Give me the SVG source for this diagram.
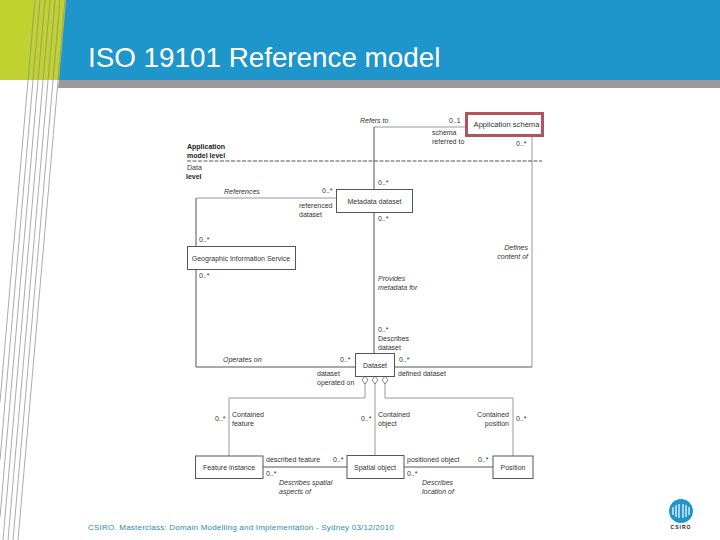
<svg xmlns="http://www.w3.org/2000/svg" width="720" height="540" viewBox="0 0 720 540">
<style>
text{font-family:"Liberation Sans",Arial,sans-serif;font-size:7px;fill:#333}
.i{font-style:italic}
.b{font-weight:bold;fill:#222}
.m{text-anchor:middle}
.e{text-anchor:end}
.box{fill:#fff;stroke:#555;stroke-width:1}
.dk{fill:none;stroke:#555;stroke-width:1}
.lt{fill:none;stroke:#999;stroke-width:1}
.st{fill:none;stroke:#888;stroke-width:.7}
.dia{fill:#fff;stroke:#666;stroke-width:.8}
</style>
<rect width="720" height="540" fill="#fff"/>
<g id="header">
<rect x="0" y="0" width="67" height="80" fill="#bfd230"/>
<polygon points="66,0 720,0 720,80 59,80" fill="#1f96cb"/>
<polygon points="59,80 720,80 720,88 58,88" fill="#9c9a9b"/>
</g>
<g id="stripes">
<path class="st" d="M35,0L0,402M40,0L0,460M45,0L0,517M50,0L3,540M55,0L8,540M60,0L13,540M65,0L18,540"/>
</g>
<text x="88" y="67" style="font-size:27.800px;fill:#fff">ISO 19101 Reference model</text>
<g id="connectors">
<path class="lt" d="M374,127H465"/>
<path class="dk" d="M374,127V189M374,212V353"/>
<path class="lt" d="M532,137V367"/>
<path class="dk" d="M395,367H532"/>
<path class="lt" d="M196,198H336"/>
<path class="dk" d="M196,198V247M196,270V367H355"/>
<path d="M187,161H542" fill="none" stroke="#555" stroke-width="1" stroke-dasharray="4 1.500"/>
<path class="lt" d="M365,383V398H229V456M375,383V456M385,383V398H513V456"/>
<path class="dk" d="M263,467H347M404,467H493"/>
<polygon class="dia" points="365,376 368,380 365,384 362,380"/>
<polygon class="dia" points="375,376 378,380 375,384 372,380"/>
<polygon class="dia" points="385,376 388,380 385,384 382,380"/>
</g>
<g id="application-schema">
<rect x="466.500" y="113.500" width="76" height="22" fill="#fff" stroke="#b5535c" stroke-width="3"/>
<text x="506.500" y="127" class="m" style="font-size:7.600px">Application schema</text>
</g>
<g id="metadata-dataset">
<rect class="box" x="336.500" y="189.500" width="76" height="23"/>
<text x="374.500" y="203.500" class="m">Metadata dataset</text>
</g>
<g id="geographic-information-service">
<rect class="box" x="187.500" y="246.500" width="108" height="23"/>
<text x="241" y="260.500" class="m">Geographic Information Service</text>
</g>
<g id="dataset">
<rect class="box" x="355.500" y="353.500" width="39" height="23"/>
<text x="375" y="367.500" class="m">Dataset</text>
</g>
<g id="feature-instance">
<rect class="box" x="195.500" y="456" width="67.500" height="22.500"/>
<text x="229" y="469.500" class="m">Feature instance</text>
</g>
<g id="spatial-object">
<rect class="box" x="347" y="455.500" width="57" height="23"/>
<text x="375" y="469.500" class="m">Spatial object</text>
</g>
<g id="position">
<rect class="box" x="493" y="456" width="40" height="22.500"/>
<text x="513" y="469.500" class="m">Position</text>
</g>
<g id="labels">
<text x="360" y="123" class="i">Refers to</text>
<text x="449" y="123">0..1</text>
<text x="432" y="135">schema</text>
<text x="432" y="144">referred to</text>
<text x="516" y="146">0..*</text>
<text x="187" y="149" class="b">Application</text>
<text x="187" y="158" class="b">model level</text>
<text x="187" y="170">Data</text>
<text x="186" y="179" class="b">level</text>
<text x="378" y="185">0..*</text>
<text x="224" y="194" class="i">References</text>
<text x="322" y="193">0..*</text>
<text x="299" y="208">referenced</text>
<text x="299" y="217">dataset</text>
<text x="378" y="221">0..*</text>
<text x="199" y="242">0..*</text>
<text x="199" y="278">0..*</text>
<text x="528" y="250" class="i e">Defines</text>
<text x="528" y="259" class="i e">content of</text>
<text x="378" y="281" class="i">Provides</text>
<text x="378" y="290" class="i">metadata for</text>
<text x="378" y="332">0..*</text>
<text x="378" y="341">Describes</text>
<text x="378" y="350">dataset</text>
<text x="223" y="362" class="i">Operates on</text>
<text x="340" y="362">0..*</text>
<text x="399" y="362">0..*</text>
<text x="317" y="376">dataset</text>
<text x="317" y="385">operated on</text>
<text x="398" y="376">defined dataset</text>
<text x="215" y="421">0..*</text>
<text x="232" y="417">Contained</text>
<text x="232" y="426">feature</text>
<text x="361" y="421">0..*</text>
<text x="378" y="417">Contained</text>
<text x="378" y="426">object</text>
<text x="509" y="417" class="e">Contained</text>
<text x="509" y="426" class="e">position</text>
<text x="516" y="421">0..*</text>
<text x="266" y="462">described feature</text>
<text x="333" y="462">0..*</text>
<text x="407" y="462">positioned object</text>
<text x="478" y="462">0..*</text>
<text x="266" y="476">0..*</text>
<text x="407" y="476">0..*</text>
<text x="279" y="485" class="i">Describes spatial</text>
<text x="279" y="494" class="i">aspects of</text>
<text x="422" y="485" class="i">Describes</text>
<text x="422" y="494" class="i">location of</text>
</g>
<text x="88" y="530" style="font-size:8px;fill:#1f8fa8;letter-spacing:.22px">CSIRO. Masterclass: Domain Modelling and Implementation - Sydney 03/12/2010</text>
<g id="csiro-logo">
<circle cx="681" cy="511" r="12" fill="#1f96cb"/>
<path d="M673,507V515M676,505V517M679,504V518M683,504V518M686,505V517M689,507V515" stroke="#fff" stroke-width="1.200" fill="none"/>
<text x="681" y="529" class="m b" style="font-size:5px;letter-spacing:1px">CSIRO</text>
</g>
</svg>
